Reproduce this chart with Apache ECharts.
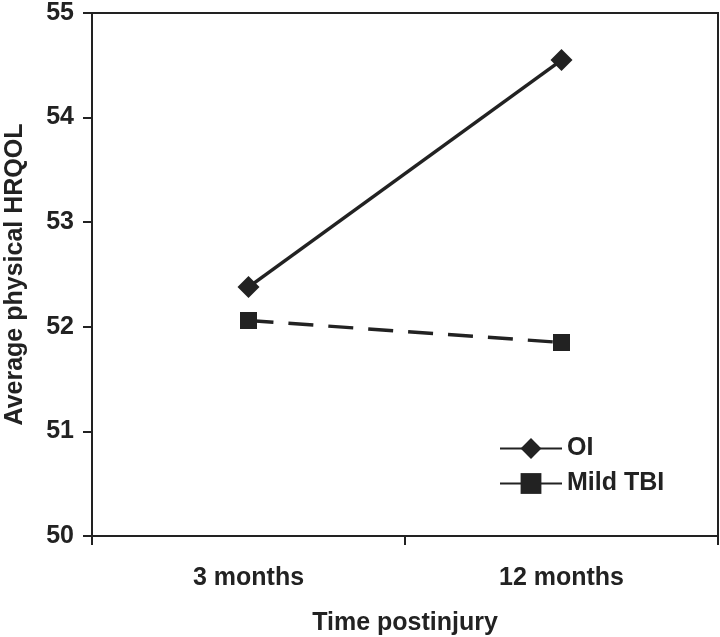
<!DOCTYPE html>
<html>
<head>
<meta charset="utf-8">
<script src="https://cdn.jsdelivr.net/npm/echarts@6/dist/echarts.min.js"></script>
<style>
html,body{margin:0;padding:0;background:#fff;}
#chart{width:720px;height:637px;}
</style>
</head>
<body>
<div id="chart"></div>
<script>
var categories = ['3 months', '12 months'];
var oiValues = [52.38, 54.55];
var tbiValues = [52.06, 51.85];
var yTicks = [50, 51, 52, 53, 54, 55];

var ink = '#222222';
var fontFam = '"Liberation Sans", Arial, sans-serif';
var chart = echarts.init(document.getElementById('chart'));
chart.setOption({
  backgroundColor: '#ffffff',
  animation: false,
  grid: {
    left: 92, right: 2, top: 13, bottom: 101,
    containLabel: false,
    outerBoundsMode: 'none',
    show: true, borderColor: ink, borderWidth: 2, backgroundColor: 'transparent'
  },
  legend: {
    orient: 'vertical',
    left: 494,
    top: 431,
    itemWidth: 62,
    itemHeight: 26,
    itemGap: 10,
    textStyle: { fontFamily: fontFam, fontWeight: 'bold', fontSize: 25, color: ink },
    data: ['OI', 'Mild TBI']
  },
  xAxis: {
    type: 'category',
    data: categories,
    boundaryGap: true,
    name: 'Time postinjury',
    nameLocation: 'middle',
    nameGap: 75,
    nameTextStyle: { fontFamily: fontFam, fontWeight: 'bold', fontSize: 25, color: ink },
    axisLine: { lineStyle: { color: ink, width: 2 } },
    axisTick: { show: true, inside: false, length: 9, lineStyle: { color: ink, width: 2 } },
    axisLabel: { margin: 30, fontFamily: fontFam, fontWeight: 'bold', fontSize: 25, color: ink },
    splitLine: { show: false }
  },
  yAxis: {
    type: 'value',
    min: yTicks[0],
    max: yTicks[yTicks.length - 1],
    interval: 1,
    name: 'Average physical HRQOL',
    nameLocation: 'middle',
    nameGap: 64,
    nameRotate: 90,
    nameTextStyle: { fontFamily: fontFam, fontWeight: 'bold', fontSize: 25, color: ink },
    axisLine: { show: true, lineStyle: { color: ink, width: 2 } },
    axisTick: { show: true, inside: false, length: 9, lineStyle: { color: ink, width: 2 } },
    axisLabel: { margin: 18, fontFamily: fontFam, fontWeight: 'bold', fontSize: 25, color: ink },
    splitLine: { show: false }
  },
  series: [
    {
      name: 'OI',
      type: 'line',
      data: oiValues,
      symbol: 'diamond',
      symbolSize: 22,
      itemStyle: { color: ink },
      lineStyle: { color: ink, width: 3.5, type: 'solid' }
    },
    {
      name: 'Mild TBI',
      type: 'line',
      data: tbiValues,
      symbol: 'rect',
      symbolSize: 17,
      itemStyle: { color: ink },
      lineStyle: { color: ink, width: 3.5, type: [25, 15] }
    }
  ]
});
</script>
</body>
</html>
